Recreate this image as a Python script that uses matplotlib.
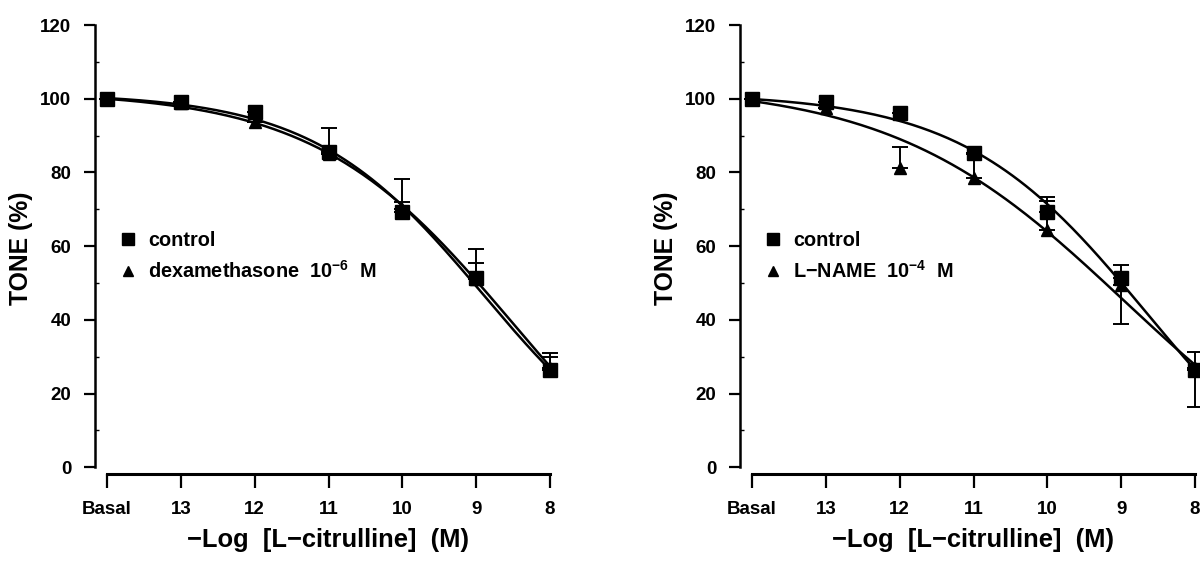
import numpy as np
import matplotlib
matplotlib.use('Agg')
import matplotlib.pyplot as plt
from matplotlib.ticker import MultipleLocator

plt.rcParams['font.family'] = ['Liberation Sans', 'DejaVu Sans']
plt.rcParams['mathtext.default'] = 'regular'

# x categories: Basal, then -log[L-citrulline] 13 ... 8
tick_labels = ['Basal', '13', '12', '11', '10', '9', '8']
neg_log_conc = [14, 13, 12, 11, 10, 9, 8]   # Basal treated as 14 for the fit

# left panel
ctrl_a = [100, 99, 96.4, 85.6, 69.3, 51.3, 26.5]
ctrl_a_up = [0, 0, 0, 6.5, 8.8, 7.8, 4.4]
dexa = [100, 98.8, 93.7, 85, 70, 51, 27]
dexa_up = [0, 0, 0, 0, 2, 4.3, 3]

# right panel
ctrl_b = [100, 99.1, 96, 85.2, 69.3, 51.3, 26.3]
ctrl_b_up = [0, 0, 0, 0, 4, 3.5, 4.9]
lname = [100, 97.4, 81.1, 78.4, 64.3, 49.5, 26.8]
lname_up = [0, 0, 5.8, 6.6, 8, 0, 0]
lname_down = [0, 0, 0, 0, 0, 10.5, 10.5]


def hill(logc, top, bottom, logec, h):
    return bottom + (top - bottom) / (1 + 10 ** ((logc - logec) * h))


def fit_curve(y):
    # crude least squares by grid search (no scipy here), basal weighted
    logc = -np.array(neg_log_conc, float)
    y = np.array(y, float)
    w = np.ones_like(y)
    w[0] = 20
    best = None
    bottoms = np.linspace(-60, 20, 41)[:, None, None]
    logecs = np.linspace(-11, -7, 81)[None, :, None]
    hs = np.linspace(0.15, 1.5, 55)[None, None, :]
    for top in np.linspace(99, 104, 11):
        err = 0
        for xi, yi, wi in zip(logc, y, w):
            err = err + wi * (hill(xi, top, bottoms, logecs, hs) - yi) ** 2
        i = np.unravel_index(np.argmin(err), err.shape)
        e = err[i]
        if best is None or e < best[0]:
            best = (e, top, bottoms.ravel()[i[0]], logecs.ravel()[i[1]], hs.ravel()[i[2]])
    return best[1:]


def draw_panel(ax, series, legend_xy):
    x = np.arange(len(tick_labels))
    xs = np.linspace(0, len(tick_labels) - 1, 200)
    for y, up, down, marker, ms, label in series:
        p = fit_curve(y)
        ax.plot(xs, hill(-(14 - xs), *p), color='black', lw=1.8, zorder=2)
        ax.errorbar(x, y, yerr=[down, up], fmt='none', ecolor='black',
                    elinewidth=1.4, capsize=6, capthick=1.4, zorder=3,
                    clip_on=False)
        ax.plot(x, y, marker, ms=ms, color='black', linestyle='none',
                label=label, zorder=4, clip_on=False)

    ax.set_xlim(-0.163, 6.0)
    ax.set_ylim(-1.7, 120.5)
    ax.spines['top'].set_visible(False)
    ax.spines['right'].set_visible(False)
    ax.spines['left'].set_bounds(0, 120)
    ax.spines['bottom'].set_bounds(0, 6)
    ax.spines['left'].set_linewidth(1.8)
    ax.spines['bottom'].set_linewidth(2.2)

    ax.set_xticks(x)
    ax.set_xticklabels(tick_labels)
    ax.set_yticks(np.arange(0, 121, 20))
    ax.yaxis.set_minor_locator(MultipleLocator(10))
    ax.tick_params(axis='y', which='major', length=8, width=1.6, pad=9,
                   labelsize=13.5)
    ax.tick_params(axis='y', which='minor', direction='in', length=3, width=1)
    ax.tick_params(axis='x', which='major', length=10, width=1.6, pad=10,
                   labelsize=13.5)
    for t in ax.get_xticklabels() + ax.get_yticklabels():
        t.set_fontweight('bold')

    ax.set_ylabel('TONE (%)', fontsize=17.8, fontweight='bold')
    ax.yaxis.set_label_coords(-0.136, 0.5)
    ax.set_xlabel('\u2212Log  [L\u2212citrulline]  (M)', fontsize=18.4,
                  fontweight='bold')
    ax.xaxis.set_label_coords(0.512, -0.122)

    ax.legend(loc='upper left', bbox_to_anchor=legend_xy,
              bbox_transform=ax.figure.transFigure, frameon=False,
              borderpad=0, borderaxespad=0, handlelength=1.0,
              handletextpad=0.5, labelspacing=0.5, markerscale=0.8,
              prop={'size': 14.3, 'weight': 'bold'})


fig = plt.figure(figsize=(12, 5.61), dpi=100)
W, H = 1200, 561
ax1 = fig.add_axes([95 / W, 1 - 473.5 / H, 455 / W, (473.5 - 23.2) / H])
ax2 = fig.add_axes([740 / W, 1 - 473.5 / H, 455 / W, (473.5 - 23.2) / H])

draw_panel(ax1, [
    (ctrl_a, ctrl_a_up, [0] * 7, 's', 10.5, 'control'),
    (dexa, dexa_up, [0] * 7, '^', 9, 'dexamethasone  10$^{-6}$  M'),
], (118 / W, 1 - 231 / H))

draw_panel(ax2, [
    (ctrl_b, ctrl_b_up, [0] * 7, 's', 10.5, 'control'),
    (lname, lname_up, lname_down, '^', 9, 'L\u2212NAME  10$^{-4}$  M'),
], (763 / W, 1 - 231 / H))

fig.savefig('out.png', dpi=100)
